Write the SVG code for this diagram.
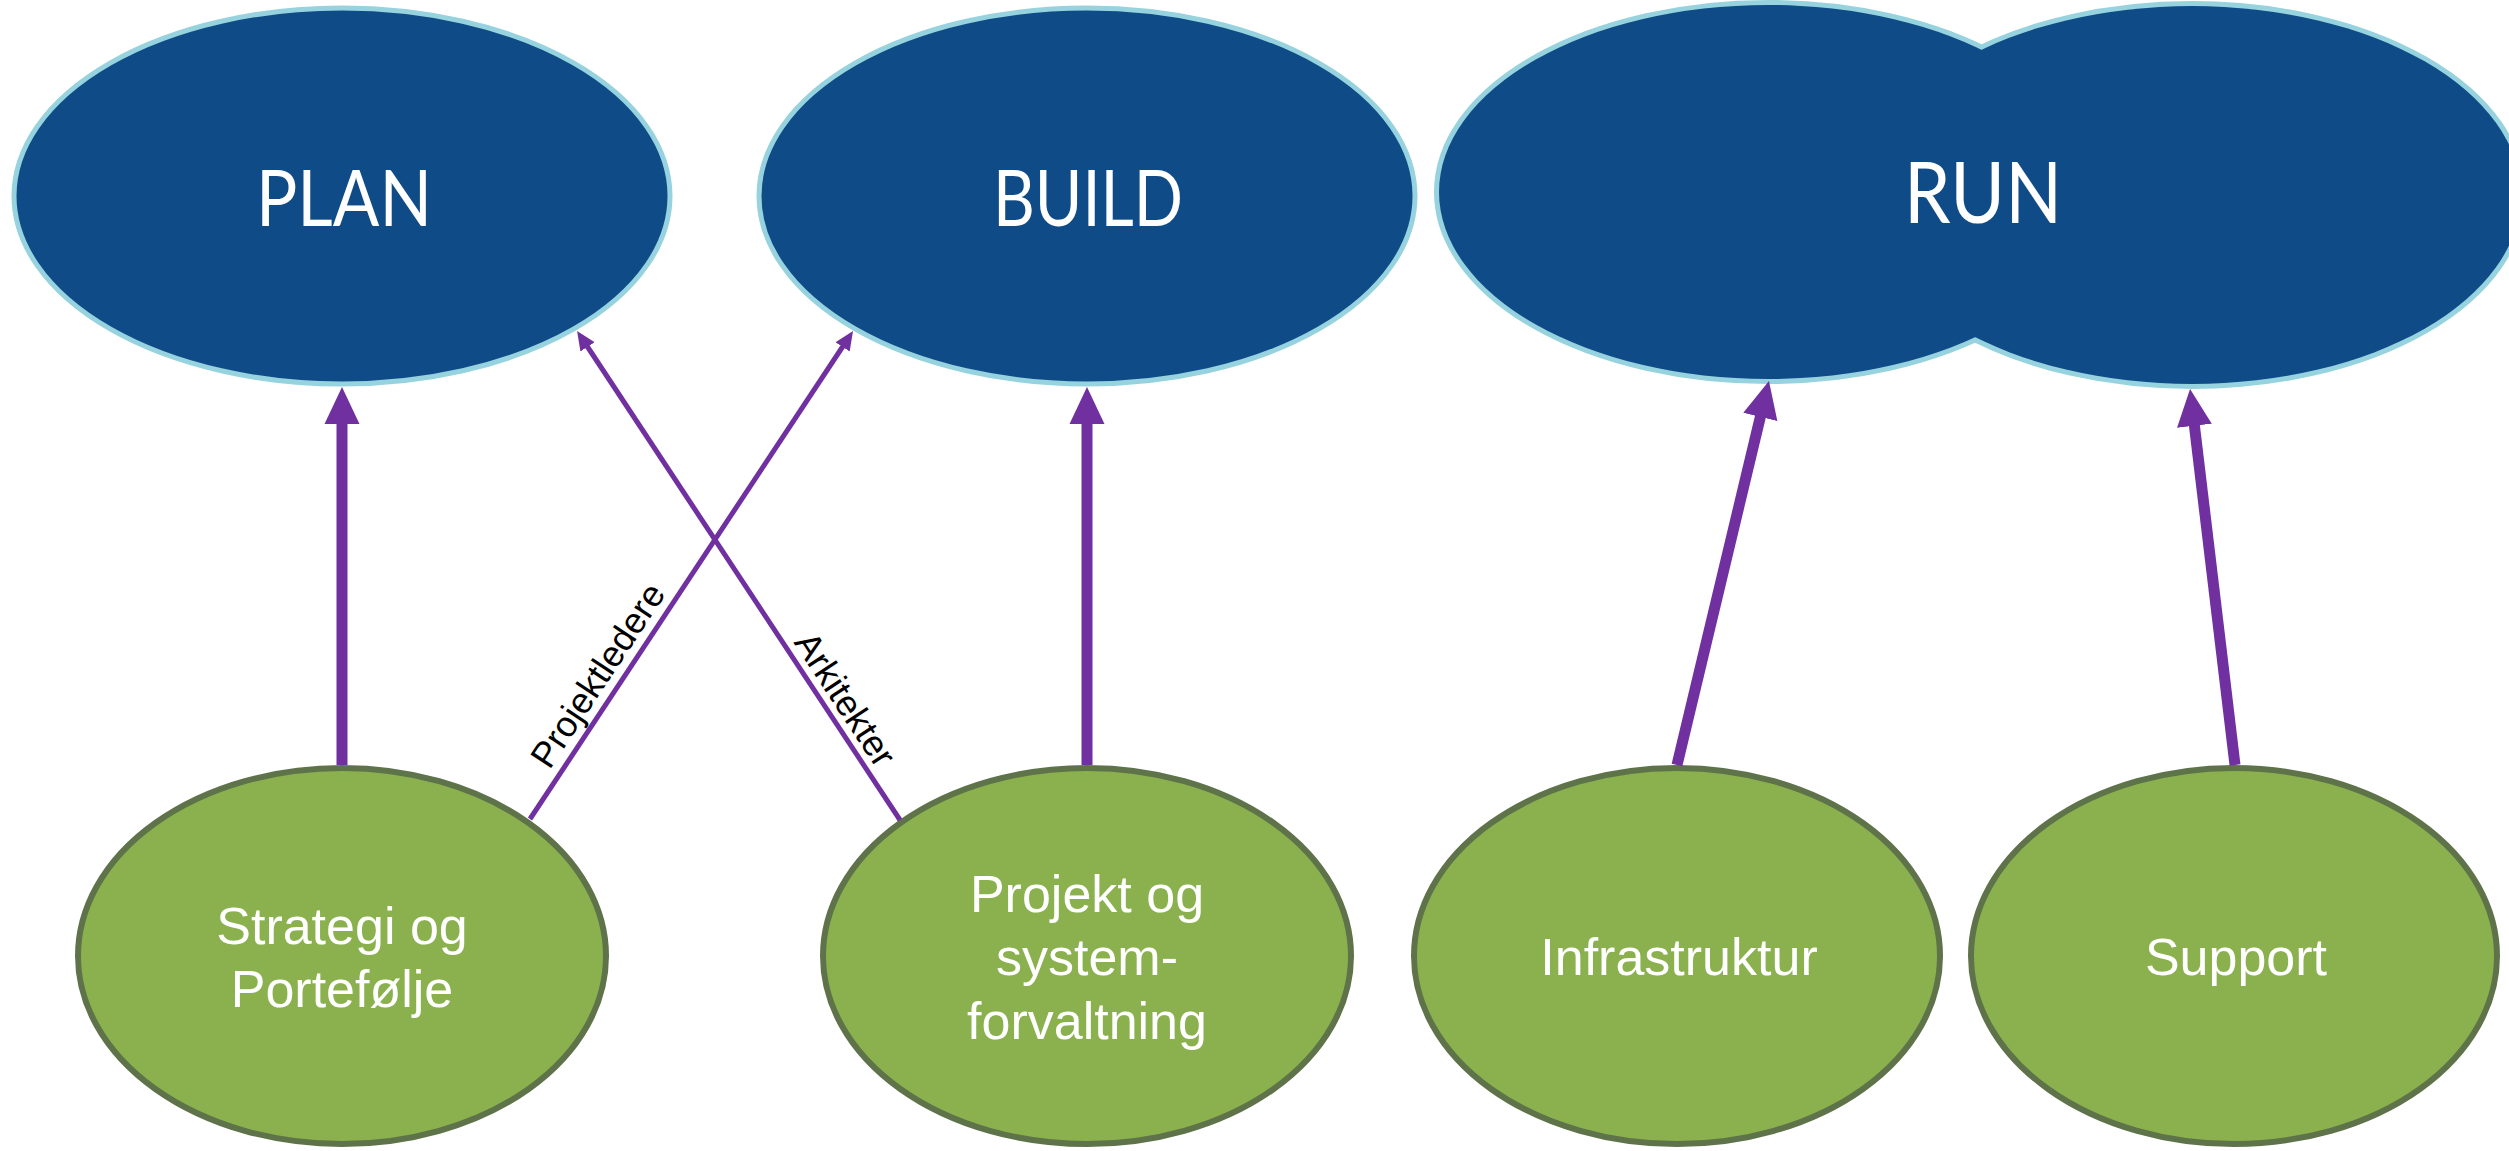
<svg xmlns="http://www.w3.org/2000/svg" width="2509" height="1151" viewBox="0 0 2509 1151">
<style>
.blue{fill:#0F4C87;stroke:#97D3DF;stroke-width:5}
.green{fill:#8AB14E;stroke:#5E7349;stroke-width:6}
.ttl{font-family:Lato,"Noto Sans",sans-serif;fill:#FFFFFF;text-anchor:middle}
.lbl{font-family:"Liberation Sans",Arial,sans-serif;font-size:52px;fill:#FFFFFF;text-anchor:middle}
.elbl{font-family:"Liberation Sans",Arial,sans-serif;font-size:36px;fill:#000000;text-anchor:middle}
.thick{stroke:#7030A0;stroke-width:11;fill:none}
.thin{stroke:#7030A0;stroke-width:5;fill:none}
</style>
<defs>
<marker id="ahThick" markerUnits="userSpaceOnUse" markerWidth="38" markerHeight="36" viewBox="0 0 38 36" refX="2" refY="18" orient="auto">
<path d="M0,0.5 L37,18 L0,35.5 Z" fill="#7030A0"/>
</marker>
<marker id="ahThin" markerUnits="userSpaceOnUse" markerWidth="20" markerHeight="18" viewBox="0 0 20 18" refX="1" refY="9" orient="auto">
<path d="M0,0.5 L19,9 L0,17.5 Z" fill="#7030A0"/>
</marker>
</defs>
<rect width="2509" height="1151" fill="#FFFFFF"/>
<g id="plan">
<ellipse class="blue" cx="342" cy="196" rx="328" ry="188"/>
<text class="ttl" x="344" y="226" font-size="77" textLength="176" lengthAdjust="spacingAndGlyphs">PLAN</text>
</g>
<g id="build">
<ellipse class="blue" cx="1087" cy="196" rx="328" ry="188"/>
<text class="ttl" x="1088" y="226" font-size="77" textLength="190" lengthAdjust="spacingAndGlyphs">BUILD</text>
</g>
<g id="run">
<ellipse cx="1768" cy="192" rx="329" ry="187" fill="none" stroke="#97D3DF" stroke-width="10"/>
<ellipse cx="2192" cy="195" rx="329" ry="189" fill="none" stroke="#97D3DF" stroke-width="10"/>
<ellipse cx="1768" cy="192" rx="329" ry="187" fill="#0F4C87"/>
<ellipse cx="2192" cy="195" rx="329" ry="189" fill="#0F4C87"/>
<text class="ttl" x="1983" y="223" font-size="85" textLength="158" lengthAdjust="spacingAndGlyphs">RUN</text>
</g>
<g id="strategi">
<ellipse class="green" cx="342" cy="956" rx="264" ry="188"/>
<text class="lbl" x="342" y="944">Strategi og</text>
<text class="lbl" x="342" y="1007">Portefølje</text>
</g>
<g id="projekt">
<ellipse class="green" cx="1087" cy="956" rx="264" ry="188"/>
<text class="lbl" x="1087" y="912">Projekt og</text>
<text class="lbl" x="1087" y="975">system-</text>
<text class="lbl" x="1087" y="1039">forvaltning</text>
</g>
<g id="infrastruktur">
<ellipse class="green" cx="1677" cy="956" rx="263" ry="188"/>
<text class="lbl" x="1679" y="975">Infrastruktur</text>
</g>
<g id="support">
<ellipse class="green" cx="2234" cy="956" rx="263" ry="188"/>
<text class="lbl" x="2236" y="975">Support</text>
</g>
<g id="connectors">
<path class="thick" d="M342,765 L342,422" marker-end="url(#ahThick)"/>
<path class="thick" d="M1087,765 L1087,422" marker-end="url(#ahThick)"/>
<path class="thick" d="M1677,765 L1760.8,415" marker-end="url(#ahThick)"/>
<path class="thick" d="M2235,765 L2194.2,423.8" marker-end="url(#ahThick)"/>
<path class="thin" d="M530,819 L843.1,346" marker-end="url(#ahThin)"/>
<path class="thin" d="M900,820 L587,346" marker-end="url(#ahThin)"/>
<text class="elbl" x="608" y="682" transform="rotate(-56.5 608 682)">Projektledere</text>
<text class="elbl" x="835" y="706" transform="rotate(56.6 835 706)">Arkitekter</text>
</g>
</svg>
